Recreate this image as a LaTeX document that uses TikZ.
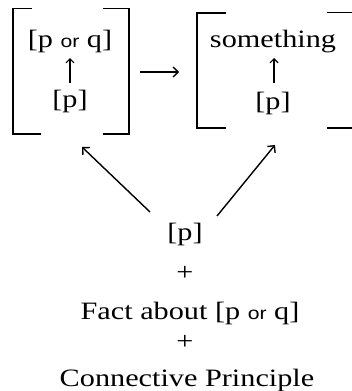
\documentclass[tikz,border=0pt]{standalone}
\usepackage{fontspec}
\setmainfont{Liberation Serif}
\newfontfamily\orfont{Liberation Sans}
\usetikzlibrary{arrows.meta}
\newcommand{\orw}{{\orfont\fontsize{17.5}{17.5}\selectfont or}}
\tikzset{
  txt/.style={font=\fontsize{25}{25}\selectfont, inner sep=0pt, anchor=base, xscale=1.21},
  brk/.style={line width=1.8pt},
  arr/.style={line width=1.4pt, -{Straight Barb[length=5pt,width=10pt,line width=1.4pt]}},
  sarr/.style={line width=1.2pt, -{Straight Barb[length=4pt,width=8pt,line width=1.2pt]}},
}
\begin{document}
\begin{tikzpicture}[x=1pt,y=-1pt]
\useasboundingbox (0,0) rectangle (351,391);
% left bracket box
\draw[brk] (32,8.5) -- (13,8.5) -- (13,134) -- (41,134);
\draw[brk] (103,8.5) -- (129,8.5) -- (129,134) -- (103,134);
% right bracket box
\draw[brk] (226,13) -- (197,13) -- (197,128) -- (226,128);
\draw[brk] (327,12.5) -- (353,12.5) -- (353,128) -- (327,128);
% inner left
\node[txt] (pq) at (70,47) {[p \orw{} q]};
\node[txt] (p1) at (70,107) {[p]};
\coordinate (a1s) at (70,83);
\coordinate (a1e) at (70,58);
\draw[sarr] (a1s) -- (a1e);
% inner right
\node[txt] (sth) at (273,47) {something};
\node[txt] (p2) at (273,109) {[p]};
\coordinate (a2s) at (274,83);
\coordinate (a2e) at (274,58);
\draw[sarr] (a2s) -- (a2e);
% middle arrow
\coordinate (h1) at (140,72);
\coordinate (h2) at (179,72);
\draw[arr] (h1) -- (h2);
% bottom
\node[txt] (p3) at (185,240) {[p]};
\coordinate (l1) at (150,212);
\coordinate (l2) at (82,147);
\coordinate (r1) at (217,216);
\coordinate (r2) at (275,145);
\draw[arr] (l1) -- (l2);
\draw[arr] (r1) -- (r2);
\node[txt] (plus1) at (185,280) {+};
\node[txt] (fact) at (190,319) {Fact about [p \orw{} q]};
\node[txt] (plus2) at (185,349) {+};
\node[txt] (cp) at (187,386) {Connective Principle};
\end{tikzpicture}
\end{document}
